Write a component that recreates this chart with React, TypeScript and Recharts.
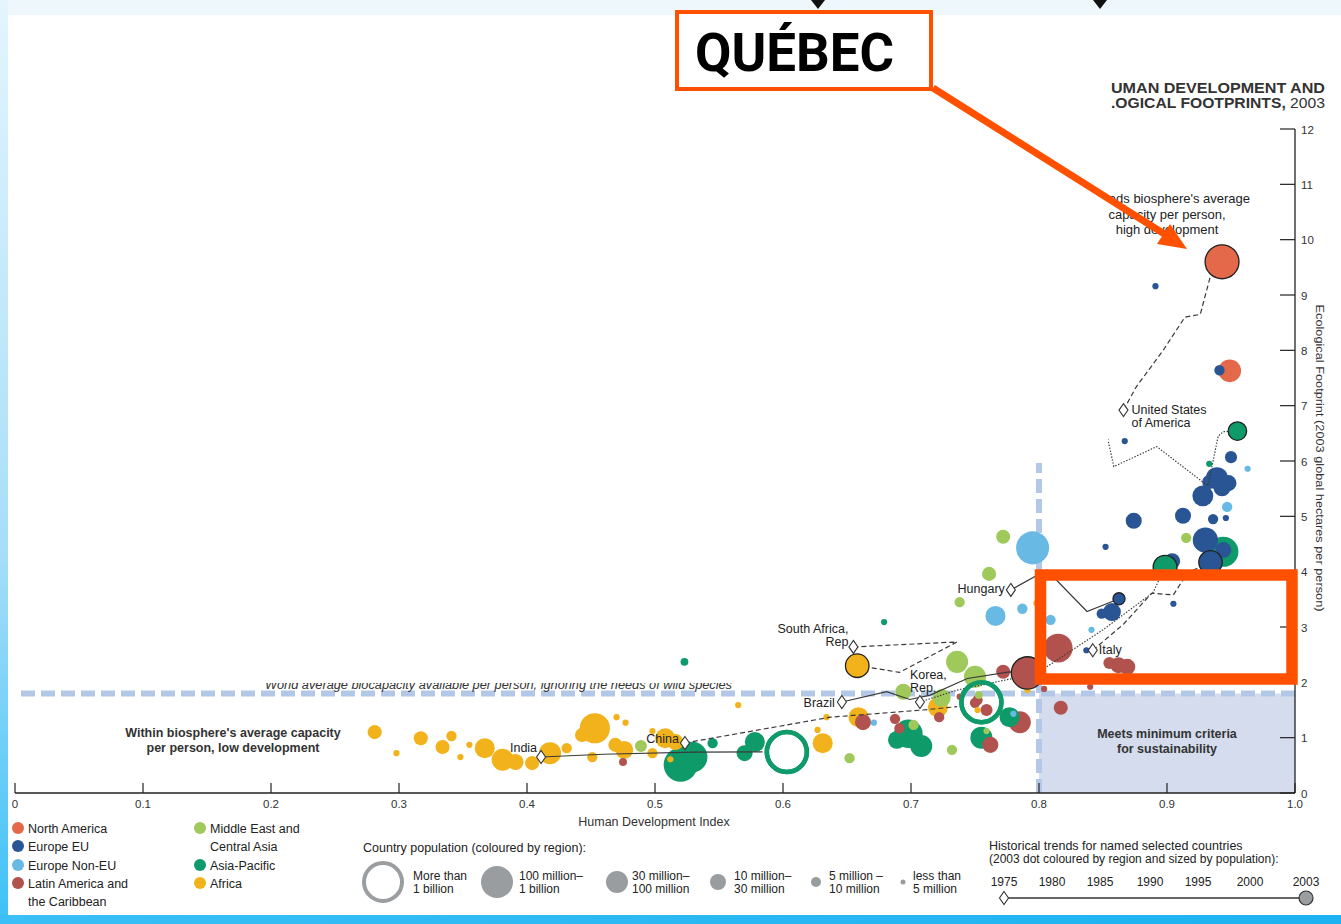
import React from "react";
import {
  ScatterChart,
  Scatter,
  XAxis,
  YAxis,
  ReferenceLine,
  ReferenceArea,
} from "recharts";

const W = 1341;
const H = 924;
const FONT = "'Liberation Sans', Arial, Helvetica, sans-serif";

const X_TICKS = [0, 0.1, 0.2, 0.3, 0.4, 0.5, 0.6, 0.7, 0.8, 0.9, 1.0];
const Y_TICKS = [0, 1, 2, 3, 4, 5, 6, 7, 8, 9, 10, 11, 12];

// [HDI, footprint (gha/person), population (millions), named country]
type Row = [number, number, number, string?];

const northAmerica: Row[] = [
  [0.943, 9.6, 230, "United States of America"],
  [0.949, 7.63, 40],
];

const europeEU: Row[] = [
  [0.891, 9.16, 1],
  [0.941, 7.64, 4],
  [0.867, 6.36, 1],
  [0.95, 6.07, 6],
  [0.939, 5.69, 36],
  [0.948, 5.6, 13],
  [0.933, 5.62, 9],
  [0.943, 5.52, 16],
  [0.928, 5.37, 30],
  [0.9125, 5.01, 13],
  [0.936, 4.95, 4],
  [0.946, 4.97, 1],
  [0.874, 4.92, 13],
  [0.93, 4.57, 60],
  [0.944, 4.39, 13],
  [0.934, 4.17, 45, "Italy"],
  [0.904, 4.19, 13],
  [0.852, 4.45, 1],
  [0.8625, 3.51, 6, "Hungary"],
  [0.857, 3.27, 18],
  [0.849, 3.24, 4],
  [0.905, 3.42, 1],
  [0.837, 2.58, 1],
];

const europeNonEU: Row[] = [
  [0.963, 5.86, 1],
  [0.947, 5.17, 4],
  [0.795, 4.43, 200],
  [0.766, 3.2, 26],
  [0.787, 3.33, 4],
  [0.809, 3.13, 4],
  [0.841, 2.95, 1],
  [0.793, 2.35, 4],
  [0.671, 1.27, 1],
  [0.78, 1.43, 1],
];

const latinAmerica: Row[] = [
  [0.475, 0.56, 2],
  [0.6625, 1.28, 13],
  [0.6875, 1.34, 4],
  [0.691, 1.17, 4],
  [0.722, 1.37, 4],
  [0.738, 1.74, 1],
  [0.75, 1.63, 4],
  [0.759, 1.5, 6],
  [0.752, 1.68, 4],
  [0.762, 0.87, 13],
  [0.785, 1.28, 36],
  [0.772, 2.19, 9],
  [0.791, 2.17, 180, "Brazil"],
  [0.804, 1.88, 1],
  [0.815, 2.62, 104],
  [0.862, 2.31, 13],
  [0.869, 2.28, 13],
  [0.855, 2.35, 6],
  [0.84, 1.92, 1],
  [0.817, 1.54, 9],
];

const middleEast: Row[] = [
  [0.489, 0.85, 6],
  [0.652, 0.63, 4],
  [0.702, 1.23, 4],
  [0.732, 0.78, 4],
  [0.724, 1.72, 18],
  [0.694, 1.83, 13],
  [0.736, 2.37, 36],
  [0.75, 2.1, 36],
  [0.753, 1.77, 2],
  [0.759, 1.12, 1],
  [0.772, 4.63, 9],
  [0.761, 3.96, 9],
  [0.738, 3.45, 4],
  [0.915, 4.61, 4],
];

const asiaPacific: Row[] = [
  [0.523, 2.37, 2],
  [0.679, 3.09, 1],
  [0.52, 0.51, 230],
  [0.529, 0.65, 140],
  [0.545, 0.9, 4],
  [0.578, 0.92, 26],
  [0.57, 0.72, 13],
  [0.603, 0.74, 1080, "India"],
  [0.698, 1.07, 100],
  [0.708, 0.85, 36],
  [0.689, 0.96, 18],
  [0.755, 1.64, 1300, "China"],
  [0.755, 1.0, 36],
  [0.777, 1.37, 26],
  [0.793, 2.26, 2],
  [0.8985, 4.08, 48, "Korea, Rep."],
  [0.944, 4.36, 128],
  [0.955, 6.54, 20, "Australia"],
  [0.933, 5.95, 1],
];

const africa: Row[] = [
  [0.281, 1.1, 9],
  [0.298, 0.72, 1],
  [0.317, 0.99, 9],
  [0.334, 0.83, 9],
  [0.341, 1.03, 4],
  [0.348, 0.65, 1],
  [0.355, 0.87, 1],
  [0.367, 0.81, 26],
  [0.381, 0.6, 36],
  [0.391, 0.56, 13],
  [0.404, 0.54, 9],
  [0.418, 0.72, 36],
  [0.431, 0.81, 4],
  [0.453, 1.17, 130],
  [0.443, 1.05, 9],
  [0.47, 1.37, 1],
  [0.477, 1.27, 1],
  [0.469, 0.87, 9],
  [0.476, 0.78, 18],
  [0.451, 0.65, 4],
  [0.508, 0.99, 26],
  [0.516, 0.92, 13],
  [0.498, 0.72, 4],
  [0.512, 0.61, 1],
  [0.498, 1.12, 1],
  [0.565, 1.59, 1],
  [0.627, 1.14, 1],
  [0.634, 1.37, 1],
  [0.631, 0.9, 26],
  [0.659, 1.37, 26],
  [0.658, 2.3, 46, "South Africa"],
  [0.721, 1.55, 26],
  [0.752, 1.5, 1],
  [0.791, 1.86, 1],
  [0.798, 3.43, 1],
];

// historical trends 1975 -> 2003, [HDI, footprint]
const indiaTrend = [[0.411, 0.651], [0.46, 0.7], [0.53, 0.74], [0.584, 0.745]];
const chinaTrend = [[0.5234, 0.904], [0.637, 1.37], [0.709, 1.5], [0.736, 1.56]];
const brazilTrend = [[0.646, 1.645], [0.681, 1.83], [0.699, 1.69], [0.715, 1.77], [0.744, 2.07], [0.777, 2.19], [0.791, 2.17]];
const koreaTrend = [[0.707, 1.645], [0.736, 1.86], [0.79, 2.12], [0.806, 2.28], [0.85, 2.95], [0.889, 3.62], [0.8985, 4.08]];
const southAfricaTrend = [[0.655, 2.64], [0.736, 2.73], [0.691, 2.18], [0.659, 2.3]];
const hungaryTrend = [[0.778, 3.67], [0.806, 4.03], [0.8375, 3.28], [0.8625, 3.51]];
const italyTrend = [[0.842, 2.58], [0.866, 3.05], [0.888, 3.61], [0.905, 3.58], [0.916, 3.98], [0.934, 4.17]];
const usaTrend = [[0.866, 6.92], [0.876, 7.34], [0.897, 8.0], [0.914, 8.6], [0.926, 8.65], [0.934, 9.35], [0.943, 9.6]];
const australiaTrend = [[0.845, 7.3], [0.8585, 5.9], [0.892, 6.26], [0.928, 5.62], [0.932, 5.55], [0.94, 6.45], [0.944, 6.53], [0.955, 6.54]];

const YEARS = ["1975", "1980", "1985", "1990", "1995", "2000", "2003"];

const C = {
  na: "#e4694b",
  eu: "#2a5595",
  nonEu: "#68b9e3",
  latam: "#b1524e",
  me: "#9fc95a",
  ap: "#0f9a6a",
  africa: "#f2b21b",
};

const REGIONS = [
  { name: "North America", color: C.na, rows: northAmerica },
  { name: "Europe EU", color: C.eu, rows: europeEU },
  { name: "Europe Non-EU", color: C.nonEu, rows: europeNonEU },
  { name: "Latin America and the Caribbean", color: C.latam, rows: latinAmerica },
  { name: "Middle East and Central Asia", color: C.me, rows: middleEast },
  { name: "Asia-Pacific", color: C.ap, rows: asiaPacific },
  { name: "Africa", color: C.africa, rows: africa },
];

const DASH: Record<string, string | undefined> = {
  solid: undefined,
  dashed: "5 3",
  dotted: "1.4 1.6",
};

const TRENDS = [
  { points: indiaTrend, kind: "solid", label: ["India"], anchor: "end", dx: -4, dy: [-4.5] },
  { points: chinaTrend, kind: "dashed", label: ["China"], anchor: "end", dx: -6, dy: [0] },
  { points: brazilTrend, kind: "solid", label: ["Brazil"], anchor: "end", dx: -7, dy: [5.5] },
  { points: koreaTrend, kind: "dotted", label: ["Korea,", "Rep."], anchor: "start", dx: -10, dy: [-22.5, -9.5] },
  { points: southAfricaTrend, kind: "dashed", label: ["South Africa,", "Rep"], anchor: "end", dx: -5, dy: [-13.5, -0.5] },
  { points: hungaryTrend, kind: "solid", label: ["Hungary"], anchor: "end", dx: -6, dy: [3] },
  { points: italyTrend, kind: "dashed", label: ["Italy"], anchor: "start", dx: 6, dy: [4] },
  { points: usaTrend, kind: "dashed", label: ["United States", "of America"], anchor: "start", dx: 8, dy: [4, 17] },
  { points: australiaTrend, kind: "dotted", label: [], anchor: "start", dx: 0, dy: [] },
];

const radiusOf = (pop: number) =>
  pop >= 1000 ? 20 : 2 + 3.3 * Math.log(1 + pop / 2.5);

const bubbles = REGIONS.flatMap((r) =>
  r.rows.map(([hdi, ef, pop, name]) => ({ hdi, ef, pop, name, color: r.color }))
).sort((a, b) => b.pop - a.pop);

const named = bubbles.filter((b) => b.name);

const BubbleShape = (props: any) => {
  const { cx, cy, payload } = props;
  const r = radiusOf(payload.pop);
  if (payload.pop >= 1000) {
    return <circle cx={cx} cy={cy} r={r} fill="none" stroke={payload.color} strokeWidth={4.5} />;
  }
  return <circle cx={cx} cy={cy} r={r} fill={payload.color} />;
};

const NamedShape = (props: any) => {
  const { cx, cy, payload } = props;
  const r = radiusOf(payload.pop);
  if (payload.pop >= 1000) {
    return <circle cx={cx} cy={cy} r={r} fill="none" stroke={payload.color} strokeWidth={4.5} />;
  }
  return <circle cx={cx} cy={cy} r={r} fill={payload.color} stroke="#222" strokeWidth={1.3} />;
};

const trendShape = (t: (typeof TRENDS)[number]) => (props: any) => {
  const { cx, cy, payload } = props;
  if (!payload.first) return <g />;
  return (
    <g>
      <path
        d={`M${cx},${cy - 6.5}L${cx + 4.5},${cy}L${cx},${cy + 6.5}L${cx - 4.5},${cy}Z`}
        fill="#fff"
        stroke="#333"
        strokeWidth={1.1}
      />
      {t.label.map((line, i) => (
        <text
          key={line}
          x={cx + t.dx}
          y={cy + t.dy[i]}
          textAnchor={t.anchor as any}
          fontSize={12.5}
          fill="#222"
          fontFamily={FONT}
        >
          {line}
        </text>
      ))}
    </g>
  );
};

const XTick = (props: any) => {
  const { x, y, payload } = props;
  const v = payload.value;
  const label = v === 0 ? "0" : v === 1 ? "1.0" : String(v);
  return (
    <g>
      <line x1={x} y1={y - 10} x2={x} y2={y} stroke="#222" strokeWidth={1.2} />
      <text x={x} y={y + 15} textAnchor="middle" fontSize={11.5} fill="#333" fontFamily={FONT}>
        {label}
      </text>
    </g>
  );
};

const YTick = (props: any) => {
  const { x, y, payload } = props;
  return (
    <g>
      <line x1={x - 15} y1={y} x2={x} y2={y} stroke="#222" strokeWidth={1.2} />
      <text x={x + 6} y={y + 4.5} fontSize={11.5} fill="#333" fontFamily={FONT}>
        {payload.value}
      </text>
    </g>
  );
};

const LEGEND_REGIONS = [
  { lines: ["North America"], color: C.na, x: 18, y: 828 },
  { lines: ["Europe EU"], color: C.eu, x: 18, y: 846 },
  { lines: ["Europe Non-EU"], color: C.nonEu, x: 18, y: 865 },
  { lines: ["Latin America and", "the Caribbean"], color: C.latam, x: 18, y: 883 },
  { lines: ["Middle East and", "Central Asia"], color: C.me, x: 200, y: 828 },
  { lines: ["Asia-Pacific"], color: C.ap, x: 200, y: 865 },
  { lines: ["Africa"], color: C.africa, x: 200, y: 883 },
];

const LEGEND_SIZES = [
  { r: 19, hollow: true, cx: 383, tx: 413, lines: ["More than", "1 billion"] },
  { r: 16, cx: 497, tx: 519, lines: ["100 million\u2013", "1 billion"] },
  { r: 11, cx: 617, tx: 632, lines: ["30 million\u2013", "100 million"] },
  { r: 8, cx: 718, tx: 734, lines: ["10 million\u2013", "30 million"] },
  { r: 5, cx: 816, tx: 829, lines: ["5 million \u2013", "10 million"] },
  { r: 2.5, cx: 903, tx: 913, lines: ["less than", "5 million"] },
];

const YEAR_X = [1004, 1052, 1100, 1150, 1198, 1250, 1306];

export default function App() {
  const txt = { fontFamily: FONT, fill: "#222" };
  return (
    <div
      style={{
        position: "fixed",
        left: 0,
        top: 0,
        width: W,
        height: H,
        overflow: "hidden",
        background: "#eef7fc",
      }}
    >
      <div style={{ position: "absolute", left: 0, top: 0, width: 8, height: H, background: "linear-gradient(#e4f5fd, #a6def8 60%, #3cc1f6)" }} />
      <div style={{ position: "absolute", left: 0, top: 915, width: W, height: 9, background: "linear-gradient(90deg, #3abff6, #1cb2f1)" }} />
      <div style={{ position: "absolute", left: 8, top: 15, width: 1333, height: 900, background: "#fff" }} />

      <div style={{ position: "absolute", left: 0, top: 0 }}>
        <ScatterChart width={W} height={H} margin={{ top: 129, right: 6, bottom: 101, left: 15 }}>
          <XAxis
            type="number"
            dataKey="hdi"
            domain={[0, 1]}
            ticks={X_TICKS}
            interval={0}
            tickSize={0}
            tickMargin={0}
            tickLine={false}
            tick={XTick}
            axisLine={{ stroke: "#222", strokeWidth: 1.3 }}
            height={30}
          />
          <YAxis
            type="number"
            dataKey="ef"
            orientation="right"
            domain={[0, 12]}
            ticks={Y_TICKS}
            interval={0}
            tickSize={0}
            tickMargin={0}
            tickLine={false}
            tick={YTick}
            axisLine={{ stroke: "#222", strokeWidth: 1.3 }}
            width={40}
          />
          <ReferenceArea x1={0.8} x2={1} y1={0} y2={1.8} fill="#d4dcee" fillOpacity={1} stroke="none" />
          <ReferenceLine y={1.8} stroke="#b3c8e6" strokeWidth={6} strokeDasharray="14 6" />
          <ReferenceLine
            segment={[{ x: 0.8, y: 0 }, { x: 0.8, y: 12 }]}
            stroke="#b3c8e6"
            strokeWidth={6}
            strokeDasharray="14 6"
          />
          <Scatter data={bubbles} shape={BubbleShape} isAnimationActive={false} />
          {TRENDS.map((t, i) => (
            <Scatter
              key={i}
              data={t.points.map(([hdi, ef], j) => ({ hdi, ef, first: j === 0 }))}
              line={{ stroke: "#3a3a3a", strokeWidth: 1.2, strokeDasharray: DASH[t.kind] }}
              lineType="joint"
              shape={trendShape(t)}
              isAnimationActive={false}
            />
          ))}
          <Scatter data={named} shape={NamedShape} isAnimationActive={false} />
        </ScatterChart>
      </div>

      <svg width={W} height={H} style={{ position: "absolute", left: 0, top: 0, pointerEvents: "none" }}>
        <defs>
          <clipPath id="worldClip">
            <rect x={200} y={683} width={600} height={20} />
          </clipPath>
        </defs>

        {/* title, partly hidden by the pasted white panel */}
        <text x={1325} y={92.5} textAnchor="end" fontSize={15} fontWeight="bold" textLength={214} lengthAdjust="spacingAndGlyphs" {...txt} fill="#333">
          UMAN DEVELOPMENT AND
        </text>
        <text x={1325} y={107.5} textAnchor="end" fontSize={15} textLength={214} lengthAdjust="spacingAndGlyphs" {...txt} fill="#333">
          <tspan fontWeight="bold">.OGICAL FOOTPRINTS,</tspan> 2003
        </text>

        <g fontSize={13} textAnchor="middle" {...txt}>
          <text x={1165} y={202.5}>Exceeds biosphere's average</text>
          <text x={1167} y={218.5}>capacity per person,</text>
          <text x={1167} y={233.5}>high development</text>
        </g>

        <rect x={8} y={15} width={1100} height={448} fill="#fff" />

        {/* top arrow tips */}
        <polygon points="811,0 825,0 818,9" fill="#111" />
        <polygon points="1093,0 1107,0 1100,9" fill="#111" />

        {/* annotations */}
        <g fontSize={12.5} fontWeight="bold" textAnchor="middle" {...txt} fill="#333">
          <text x={233} y={737}>Within biosphere's average capacity</text>
          <text x={233} y={752}>per person, low development</text>
          <text x={1167} y={737.5}>Meets minimum criteria</text>
          <text x={1167} y={752.5}>for sustainability</text>
        </g>
        <text x={265} y={689} fontSize={12} fontStyle="italic" textLength={467} lengthAdjust="spacingAndGlyphs" clipPath="url(#worldClip)" {...txt} fill="#333">
          World average biocapacity available per person, ignoring the needs of wild species
        </text>

        <text x={654} y={826} textAnchor="middle" fontSize={12.5} {...txt} fill="#333">
          Human Development Index
        </text>
        <text
          transform="translate(1316,458) rotate(90)"
          textAnchor="middle"
          fontSize={11.5}
          textLength={307}
          lengthAdjust="spacingAndGlyphs"
          {...txt}
          fill="#333"
        >
          Ecological Footprint (2003 global hectares per person)
        </text>

        {/* region legend */}
        {LEGEND_REGIONS.map((l) => (
          <g key={l.lines[0]}>
            <circle cx={l.x} cy={l.y} r={6} fill={l.color} />
            {l.lines.map((s, i) => (
              <text key={s} x={l.x + 10} y={l.y + 4.5 + i * 18} fontSize={12.5} {...txt}>
                {s}
              </text>
            ))}
          </g>
        ))}

        {/* population legend */}
        <text x={363} y={852} fontSize={12.5} {...txt}>
          Country population (coloured by region):
        </text>
        {LEGEND_SIZES.map((s) => (
          <g key={s.lines[0]}>
            {s.hollow ? (
              <circle cx={s.cx} cy={882} r={s.r} fill="none" stroke="#9a9ea1" strokeWidth={4} />
            ) : (
              <circle cx={s.cx} cy={882} r={s.r} fill="#999d9f" />
            )}
            <text x={s.tx} y={880} fontSize={12} {...txt}>{s.lines[0]}</text>
            <text x={s.tx} y={893} fontSize={12} {...txt}>{s.lines[1]}</text>
          </g>
        ))}

        {/* historical trends legend */}
        <text x={989} y={850} fontSize={12.5} {...txt}>
          Historical trends for named selected countries
        </text>
        <text x={989} y={863} fontSize={12} {...txt}>
          (2003 dot coloured by region and sized by population):
        </text>
        {YEARS.map((yr, i) => (
          <text key={yr} x={YEAR_X[i]} y={886} textAnchor="middle" fontSize={12} {...txt}>
            {yr}
          </text>
        ))}
        <line x1={YEAR_X[0]} y1={898} x2={YEAR_X[6]} y2={898} stroke="#333" strokeWidth={1.5} />
        <path d={`M${YEAR_X[0]},891.5L${YEAR_X[0] + 4.5},898L${YEAR_X[0]},904.5L${YEAR_X[0] - 4.5},898Z`} fill="#fff" stroke="#333" strokeWidth={1.1} />
        <circle cx={YEAR_X[6]} cy={898} r={7} fill="#9a9ea1" stroke="#333" strokeWidth={1.2} />

        {/* Québec callout */}
        <rect x={677} y={12} width={254} height={77} fill="#fff" stroke="#ff5000" strokeWidth={4} />
        <text x={695} y={71} fontSize={54} fontWeight="bold" fontFamily="Roboto, 'Liberation Sans', sans-serif" fill="#000" textLength={199} lengthAdjust="spacingAndGlyphs">
          QUÉBEC
        </text>
        <line x1={933} y1={88} x2={1166} y2={235} stroke="#ff5000" strokeWidth={7} />
        <polygon points="1187,249 1157,244 1170,224" fill="#ff5000" />

        <rect x={1040.5} y={575} width={251.5} height={104} fill="none" stroke="#ff5000" strokeWidth={11.5} />
      </svg>
    </div>
  );
}
